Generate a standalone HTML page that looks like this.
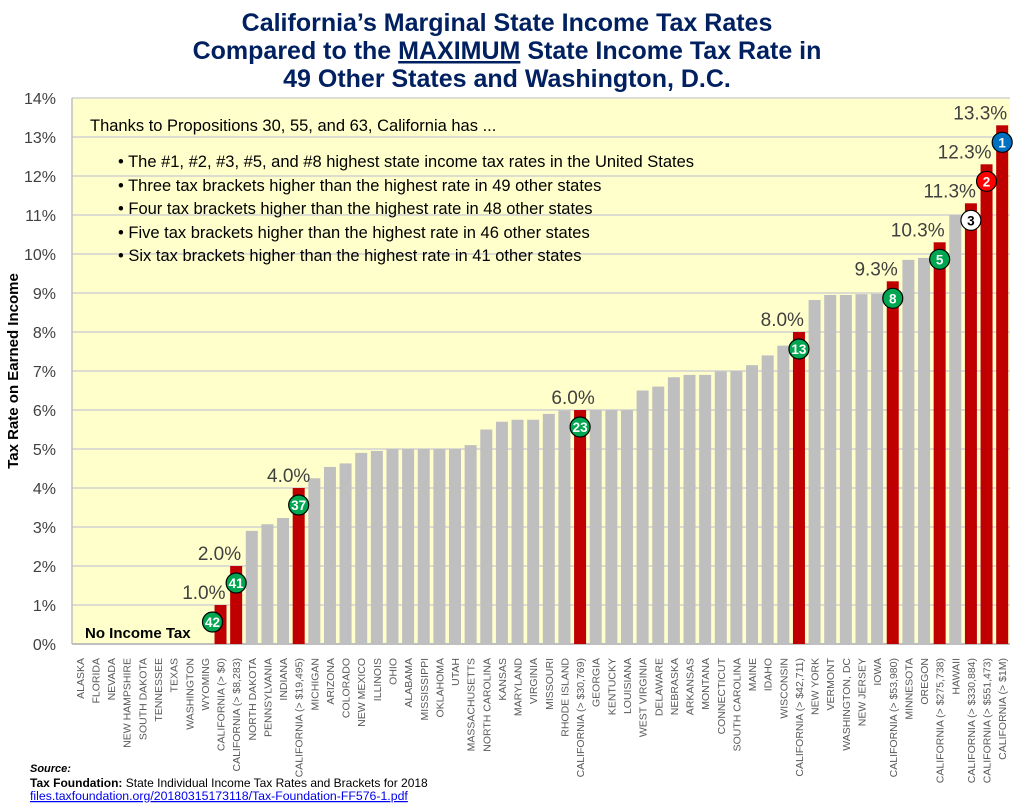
<!DOCTYPE html>
<html><head><meta charset="utf-8">
<style>
body{margin:0;background:#fff;width:1015px;height:804px;overflow:hidden;font-family:"Liberation Sans",sans-serif;}
svg text{font-family:"Liberation Sans",sans-serif;}
</style></head>
<body>
<svg id="chart" width="1015" height="804">
<text x="507" y="31" text-anchor="middle" font-size="25" font-weight="bold" fill="#002060">California’s Marginal State Income Tax Rates</text>
<text x="507" y="59" text-anchor="middle" font-size="25" font-weight="bold" fill="#002060">Compared to the <tspan text-decoration="underline">MAXIMUM</tspan> State Income Tax Rate in</text>
<text x="507" y="87" text-anchor="middle" font-size="25" font-weight="bold" fill="#002060">49 Other States and Washington, D.C.</text>
<rect x="72" y="98" width="938" height="546" fill="#ffffcc"/>
<g id="grid"></g>
<g id="bars"></g>
<g id="labels"></g>
<text x="18" y="371" transform="rotate(-90 18 371)" text-anchor="middle" font-size="15" font-weight="bold" fill="#000">Tax Rate on Earned Income</text>
<g font-size="16.5" fill="#000">
<text x="90" y="131">Thanks to Propositions 30, 55, and 63, California has ...</text>
<text x="118" y="167">• The #1, #2, #3, #5, and #8 highest state income tax rates in the United States</text>
<text x="118" y="191">• Three tax brackets higher than the highest rate in 49 other states</text>
<text x="118" y="214">• Four tax brackets higher than the highest rate in 48 other states</text>
<text x="118" y="238">• Five tax brackets higher than the highest rate in 46 other states</text>
<text x="118" y="261">• Six tax brackets higher than the highest rate in 41 other states</text>
</g>
<text x="85" y="638" font-size="15" font-weight="bold" fill="#000">No Income Tax</text>
<text x="30" y="772" font-size="11" font-weight="bold" font-style="italic">Source:</text>
<text x="30" y="787" font-size="12"><tspan font-weight="bold">Tax Foundation:</tspan> State Individual Income Tax Rates and Brackets for 2018</text>
<text x="30" y="800" font-size="12.3" fill="#0000ee" text-decoration="underline">files.taxfoundation.org/20180315173118/Tax-Foundation-FF576-1.pdf</text>
</svg>
<script>
const categories=["ALASKA","FLORIDA","NEVADA","NEW HAMPSHIRE","SOUTH DAKOTA","TENNESSEE","TEXAS","WASHINGTON","WYOMING","CALIFORNIA (> $0)","CALIFORNIA (> $8,283)","NORTH DAKOTA","PENNSYLVANIA","INDIANA","CALIFORNIA (> $19,495)","MICHIGAN","ARIZONA","COLORADO","NEW MEXICO","ILLINOIS","OHIO","ALABAMA","MISSISSIPPI","OKLAHOMA","UTAH","MASSACHUSETTS","NORTH CAROLINA","KANSAS","MARYLAND","VIRGINIA","MISSOURI","RHODE ISLAND","CALIFORNIA (> $30,769)","GEORGIA","KENTUCKY","LOUISIANA","WEST VIRGINIA","DELAWARE","NEBRASKA","ARKANSAS","MONTANA","CONNECTICUT","SOUTH CAROLINA","MAINE","IDAHO","WISCONSIN","CALIFORNIA (> $42,711)","NEW YORK","VERMONT","WASHINGTON, DC","NEW JERSEY","IOWA","CALIFORNIA (> $53,980)","MINNESOTA","OREGON","CALIFORNIA (> $275,738)","HAWAII","CALIFORNIA (> $330,884)","CALIFORNIA (> $551,473)","CALIFORNIA (> $1M)"];
const rates=[0,0,0,0,0,0,0,0,0,1,2,2.9,3.07,3.23,4,4.25,4.54,4.63,4.9,4.95,5,5,5,5,5,5.1,5.5,5.7,5.75,5.75,5.9,5.99,6,6,6,6,6.5,6.6,6.84,6.9,6.9,6.99,7,7.15,7.4,7.65,8,8.82,8.95,8.95,8.97,8.98,9.3,9.85,9.9,10.3,11,11.3,12.3,13.3];
const ranks=[null,null,null,null,null,null,null,null,null,42,41,null,null,null,37,null,null,null,null,null,null,null,null,null,null,null,null,null,null,null,null,null,23,null,null,null,null,null,null,null,null,null,null,null,null,null,13,null,null,null,null,null,8,null,null,5,null,3,2,1];
const yTicks=[0,1,2,3,4,5,6,7,8,9,10,11,12,13,14];
const NS="http://www.w3.org/2000/svg";
const L=72,R=1010,T=98,B=644,yMax=14;
const slot=(R-L)/categories.length;
const y=v=>B-(v/yMax)*(B-T);
const xc=i=>L+slot*(i+0.5);
function mk(tag,attrs,parent){const e=document.createElementNS(NS,tag);for(const k in attrs)e.setAttribute(k,attrs[k]);parent.appendChild(e);return e;}
const grid=document.getElementById('grid'),bars=document.getElementById('bars'),labels=document.getElementById('labels');
yTicks.forEach(t=>{
  const ln=mk('line',{x1:L,x2:R,y1:y(t),y2:y(t),stroke:'#d0d0d0','stroke-width':1.5},grid);
  
  
  const tx=mk('text',{x:56,y:y(t)+6,'text-anchor':'end','font-size':16,fill:'#404040'},grid);
  tx.textContent=t+'%';
  
  
});
const ax=mk('line',{x1:L,x2:L,y1:T,y2:B,stroke:'#bfbfbf','stroke-width':1.5},grid);


const bx=mk('line',{x1:L,x2:R,y1:B,y2:B,stroke:'#bfbfbf','stroke-width':2},grid);


categories.forEach((c,i)=>{
  const v=rates[i],isCA=c.indexOf('CALIFORNIA')===0;
  if(v>0){
    const r=mk('rect',{x:xc(i)-6,y:y(v),width:12,height:B-y(v),fill:isCA?'#c00000':'#bfbfbf'},bars);
    
    
  }
  const tx=mk('text',{x:0,y:0,transform:`translate(${xc(i)+4},${B+14}) rotate(-90)`,'text-anchor':'end','font-size':10.5,fill:'#595959'},labels);
  tx.textContent=c;
  
  
  if(isCA){
    const txt=v.toFixed(1)+'%';
    let anchor='end',lx=xc(i)+5;
    if(v===4){anchor='middle';lx=xc(i)-10;}
    if(v===6){anchor='middle';lx=xc(i)-7;}
    const vl=mk('text',{x:lx,y:y(v)-6,'text-anchor':anchor,'font-size':19,fill:'#404040'},labels);
    vl.textContent=txt;
    
    
  }
  const rk=ranks[i];
  if(rk!==null){
    const fill=rk===1?'#0070c0':rk===2?'#ff0000':rk===3?'#ffffff':'#00a650';
    const cx=rk===42?xc(i)-8:xc(i), cy=y(v)+17;
    const g=mk('g',{},labels);
    
    
    mk('circle',{cx:cx,cy:cy,r:10,fill:fill,stroke:'#000','stroke-width':1.2},g);
    const bt=mk('text',{x:cx,y:cy+5,'text-anchor':'middle','font-size':13.5,'font-weight':'bold',fill:rk===3?'#000':'#fff'},g);
    bt.textContent=rk;
  }
});
</script>
</body></html>
